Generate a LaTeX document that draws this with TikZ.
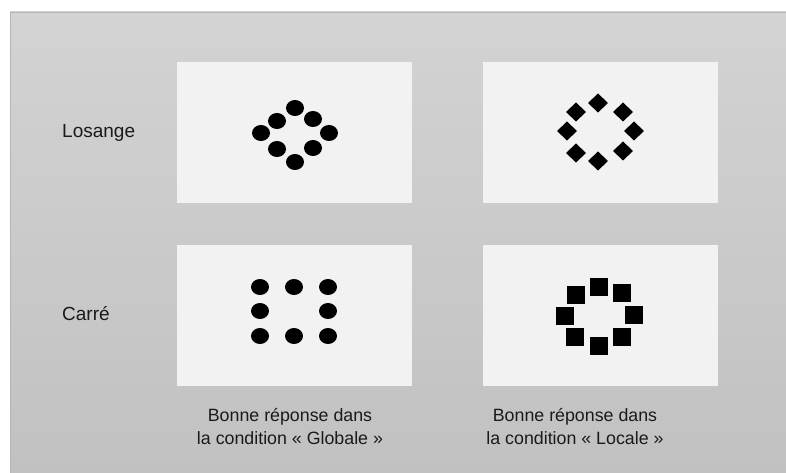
\documentclass[tikz,border=0pt]{standalone}
\usepackage{fontspec}
\setmainfont{Liberation Sans}
\begin{document}
\begin{tikzpicture}[x=1pt,y=-1pt,
  panel/.style={draw=none,fill=boxgray,minimum width=235pt,minimum height=141pt,inner sep=0pt,anchor=north west},
  rowlabel/.style={anchor=west,inner sep=0pt,font=\fontsize{19}{21}\selectfont,text=textblack},
  caption/.style={align=center,inner sep=0pt,font=\fontsize{17.8}{23}\selectfont,text=textblack},
  dot/.style={fill=black}]
\definecolor{boxgray}{HTML}{F2F2F2}
\definecolor{textblack}{HTML}{1A1A1A}
\definecolor{bgtop}{HTML}{D3D3D3}
\definecolor{bgbot}{HTML}{C1C1C1}
\definecolor{edge}{HTML}{B4B4B4}
\useasboundingbox (0,0) rectangle (786,473);
\fill[white] (0,0) rectangle (786,473);
\shade[top color=bgtop,bottom color=bgbot] (10,12) rectangle (786,473);
\draw[edge,line width=1pt] (10,473) -- (10,12.5) -- (786,12.5);
% panels
\node[panel] (tl) at (177,62) {};
\node[panel] (tr) at (483,62) {};
\node[panel] (bl) at (177,245) {};
\node[panel] (br) at (483,245) {};
% row labels
\node[rowlabel] (los) at (62,133) {Losange};
\node[rowlabel] (car) at (62,314) {Carré};
% captions
\node[caption] (capg) at (290,427) {Bonne réponse dans\\la condition « Globale »};
\node[caption] (capl) at (575,427) {Bonne réponse dans\\la condition « Locale »};
% Losange made of circles
\foreach \x/\y in {295/108,277/121,313/119,261/133,329/133,277/149,313/148,295/162}
  \fill[dot] (\x,\y) ellipse [x radius=9pt,y radius=8pt];
% Losange made of diamonds
\foreach \x/\y in {598/103,576/112,623/112,567/131,634/131,576/153,623/151,598/161}
  \fill[dot] (\x,\y) +(0,-9.5) -- +(10,0) -- +(0,9.5) -- +(-10,0) -- cycle;
% Carre made of circles
\foreach \x/\y in {260/287,294/287,328/287,260/311,328/311,260/336,294/336,328/336}
  \fill[dot] (\x,\y) ellipse [x radius=9pt,y radius=8pt];
% Carre made of squares
\foreach \x/\y in {599/287,576/295,622/293,565/316,634/315,575/337,622/337,599/346}
  \fill[dot] (\x,\y) +(-9,-9) rectangle +(9,9);
\end{tikzpicture}
\end{document}
